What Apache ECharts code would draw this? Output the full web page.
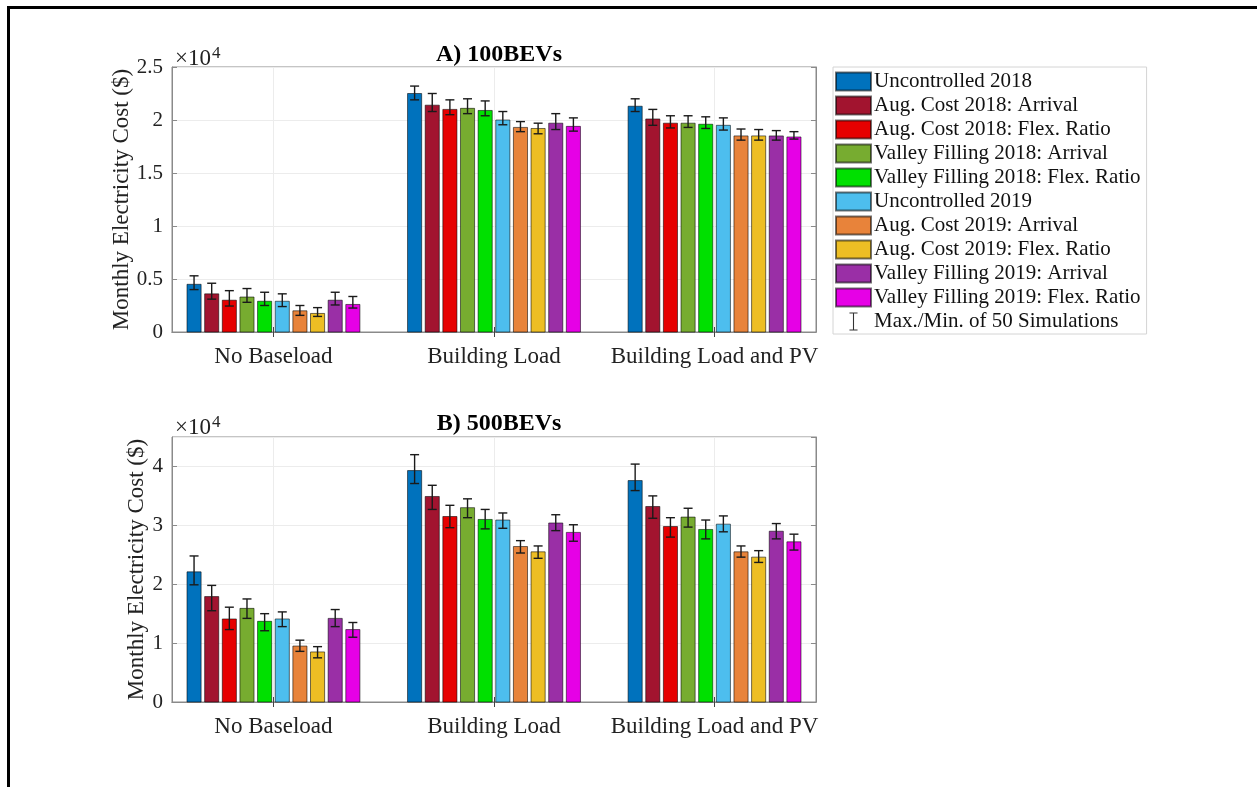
<!DOCTYPE html>
<html lang="en">
<head>
    <title>Monthly Electricity Cost</title>
    <meta charset="utf-8">
    <style>
        html, body { margin: 0; padding: 0; background: #fff; }
        #chart { width: 1257px; height: 787px; }
        .frame { position: absolute; left: 7px; top: 6px; right: -5px; bottom: -5px; border-top: 3px solid #000; border-left: 3px solid #000; pointer-events: none; }
    </style>
    <script src="https://cdn.jsdelivr.net/npm/echarts@6.0.0/dist/echarts.min.js"></script>
</head>
<body>
    <div id="chart"></div>
    <div class="frame"></div>
    <script type="text/javascript">
        // categories and series
        var categories = ["No Baseload", "Building Load", "Building Load and PV"];
        var seriesNames = [
            "Uncontrolled 2018", "Aug. Cost 2018: Arrival", "Aug. Cost 2018: Flex. Ratio",
            "Valley Filling 2018: Arrival", "Valley Filling 2018: Flex. Ratio", "Uncontrolled 2019",
            "Aug. Cost 2019: Arrival", "Aug. Cost 2019: Flex. Ratio", "Valley Filling 2019: Arrival",
            "Valley Filling 2019: Flex. Ratio"
        ];
        var colors = ["#0072BD", "#A2142F", "#E60000", "#77AC30", "#00E000", "#4DBEEE", "#E8833A", "#EDBE24", "#9A2FA6", "#E600E6"];
        var errName = "Max./Min. of 50 Simulations";

        // values in x10^4 $ , one row per series: [No Baseload, Building Load, Building Load and PV]
        var bev100Mean = [
            [0.45, 2.25, 2.13], [0.36, 2.14, 2.01], [0.30, 2.10, 1.97], [0.33, 2.11, 1.97], [0.29, 2.09, 1.96],
            [0.29, 2.00, 1.95], [0.20, 1.93, 1.85], [0.175, 1.92, 1.85], [0.30, 1.97, 1.85], [0.26, 1.94, 1.84]
        ];
        var bev100Min = [
            [0.40, 2.19, 2.08], [0.31, 2.08, 1.95], [0.245, 2.05, 1.925], [0.28, 2.06, 1.93], [0.25, 2.04, 1.92],
            [0.24, 1.955, 1.905], [0.157, 1.89, 1.81], [0.147, 1.87, 1.81], [0.255, 1.91, 1.81], [0.226, 1.895, 1.82]
        ];
        var bev100Max = [
            [0.53, 2.32, 2.20], [0.46, 2.25, 2.10], [0.39, 2.19, 2.04], [0.41, 2.20, 2.04], [0.375, 2.18, 2.03],
            [0.36, 2.08, 2.02], [0.25, 1.985, 1.915], [0.23, 1.97, 1.91], [0.375, 2.06, 1.90], [0.335, 2.02, 1.89]
        ];
        var bev500Mean = [
            [2.21, 3.93, 3.76], [1.79, 3.49, 3.32], [1.41, 3.15, 2.98], [1.59, 3.30, 3.14], [1.37, 3.10, 2.93],
            [1.41, 3.09, 3.02], [0.95, 2.64, 2.55], [0.85, 2.55, 2.46], [1.42, 3.04, 2.90], [1.23, 2.88, 2.72]
        ];
        var bev500Min = [
            [1.99, 3.71, 3.59], [1.55, 3.27, 3.12], [1.23, 2.96, 2.80], [1.42, 3.13, 2.97], [1.21, 2.94, 2.77],
            [1.28, 2.95, 2.89], [0.86, 2.53, 2.46], [0.75, 2.44, 2.37], [1.28, 2.91, 2.77], [1.10, 2.73, 2.58]
        ];
        var bev500Max = [
            [2.48, 4.20, 4.04], [1.98, 3.68, 3.50], [1.61, 3.34, 3.13], [1.75, 3.45, 3.29], [1.50, 3.27, 3.09],
            [1.53, 3.21, 3.16], [1.05, 2.74, 2.65], [0.94, 2.65, 2.57], [1.57, 3.18, 3.03], [1.35, 3.01, 2.85]
        ];

        var FONT = "'Liberation Serif', 'Times New Roman', serif";
        var slot = 0.08, barW = 0.064;

        function makeRender(m) {
            return function (params, api) {
                var x = api.value(0) + (m - 4.5) * slot;
                var top = api.coord([x, api.value(1)]);
                var base = api.coord([x, 0]);
                var lo = api.coord([x, api.value(2)]);
                var hi = api.coord([x, api.value(3)]);
                var w = api.size([barW, 0])[0];
                var cap = 4.5;
                var ls = { stroke: "#1a1a1a", lineWidth: 1.4 };
                return {
                    type: "group",
                    children: [
                        { type: "rect", shape: { x: top[0] - w / 2, y: top[1], width: w, height: base[1] - top[1] },
                          style: { fill: colors[m], stroke: "rgba(0,0,0,0.55)", lineWidth: 1 } },
                        { type: "line", shape: { x1: hi[0], y1: hi[1], x2: lo[0], y2: lo[1] }, style: ls },
                        { type: "line", shape: { x1: hi[0] - cap, y1: hi[1], x2: hi[0] + cap, y2: hi[1] }, style: ls },
                        { type: "line", shape: { x1: lo[0] - cap, y1: lo[1], x2: lo[0] + cap, y2: lo[1] }, style: ls }
                    ]
                };
            };
        }

        function buildSeries(gridIdx, means, mins, maxs) {
            return seriesNames.map(function (name, m) {
                return {
                    name: name,
                    type: "custom",
                    xAxisIndex: gridIdx * 2,
                    yAxisIndex: gridIdx * 2,
                    itemStyle: { color: colors[m], borderColor: "rgba(0,0,0,0.55)", borderWidth: 1 },
                    renderItem: makeRender(m),
                    encode: { x: 0, y: [1, 2, 3] },
                    data: categories.map(function (c, i) { return [i + 1, means[m][i], mins[m][i], maxs[m][i]]; })
                };
            });
        }

        function xAxes(gridIdx) {
            return [
                {
                    type: "value", gridIndex: gridIdx, min: 0.54, max: 3.46,
                    axisLine: { lineStyle: { color: "#8a8a8a" } },
                    axisTick: { inside: true, length: 5, customValues: [1, 2, 3], lineStyle: { color: "#444" } },
                    axisLabel: { customValues: [1, 2, 3], margin: 13, fontFamily: FONT, fontSize: 23, color: "#222",
                                 formatter: function (v) { return categories[Math.round(v) - 1]; } },
                    splitLine: { show: true, lineStyle: { color: "#ececec" } }
                },
                {
                    type: "value", gridIndex: gridIdx, position: "top", min: 0.54, max: 3.46,
                    axisLine: { lineStyle: { color: "#8a8a8a" } },
                    axisTick: { inside: true, length: 5, customValues: [1, 2, 3], lineStyle: { color: "#444" } },
                    axisLabel: { show: false },
                    splitLine: { show: false }
                }
            ];
        }

        function yAxes(gridIdx, max, interval, gap, showMax) {
            return [
                {
                    type: "value", gridIndex: gridIdx, min: 0, max: max, interval: interval,
                    name: "Monthly Electricity Cost ($)", nameLocation: "middle", nameGap: gap,
                    nameMoveOverlap: false,
                    nameTextStyle: { fontFamily: FONT, fontSize: 23, color: "#222" },
                    axisLine: { show: true, lineStyle: { color: "#8a8a8a" } },
                    axisTick: { show: true, inside: true, length: 5, lineStyle: { color: "#8a8a8a" } },
                    axisLabel: { margin: 9, fontFamily: FONT, fontSize: 21, color: "#222", showMaxLabel: showMax },
                    splitLine: { show: true, lineStyle: { color: "#ececec" } }
                },
                {
                    type: "value", gridIndex: gridIdx, position: "right", min: 0, max: max, interval: interval,
                    axisLine: { show: true, lineStyle: { color: "#8a8a8a" } },
                    axisTick: { show: true, inside: true, length: 5, lineStyle: { color: "#8a8a8a" } },
                    axisLabel: { show: false },
                    splitLine: { show: false }
                }
            ];
        }

        var series = buildSeries(0, bev100Mean, bev100Min, bev100Max)
            .concat(buildSeries(1, bev500Mean, bev500Min, bev500Max));
        series.push({
            name: errName, type: "custom", xAxisIndex: 0, yAxisIndex: 0,
            itemStyle: { color: "#333" }, renderItem: function () { return null; }, data: []
        });

        var legendData = seriesNames.map(function (n) { return { name: n, icon: "rect" }; });
        legendData.push({ name: errName, icon: "path://M0,0H9V1.2H5.1V18.8H9V20H0V18.8H3.9V1.2H0Z", itemStyle: { borderWidth: 0 } });

        var supRich = {
            a: { fontFamily: FONT, fontSize: 23, fontWeight: "normal", color: "#222" },
            b: { fontFamily: FONT, fontSize: 17, fontWeight: "normal", color: "#222", verticalAlign: "top", padding: [0, 0, 10, 1] }
        };

        var option = {
            backgroundColor: "#fff",
            animation: false,
            title: [
                { text: "A) 100BEVs", left: 494, top: 38, textAlign: "center",
                  textStyle: { fontFamily: FONT, fontSize: 24, fontWeight: "bold", color: "#000" } },
                { text: "B) 500BEVs", left: 494, top: 407, textAlign: "center",
                  textStyle: { fontFamily: FONT, fontSize: 24, fontWeight: "bold", color: "#000" } },
                { text: "{a|×10}{b|4}", left: 170, top: 40, textStyle: { rich: supRich } },
                { text: "{a|×10}{b|4}", left: 170, top: 409, textStyle: { rich: supRich } }
            ],
            legend: {
                orient: "vertical", left: 833, top: 67,
                itemWidth: 35, itemHeight: 18, itemGap: 3,
                padding: [4, 6, 2, 2],
                borderColor: "#d4d4d4", borderWidth: 1,
                selectedMode: false,
                textStyle: { fontFamily: FONT, fontSize: 21, lineHeight: 18, color: "#111", padding: [0, 0, 0, -2] },
                data: legendData
            },
            grid: [
                { left: 172, top: 67, width: 644, height: 265, show: true, borderColor: "#8a8a8a", borderWidth: 1 },
                { left: 172, top: 437, width: 644, height: 265, show: true, borderColor: "#8a8a8a", borderWidth: 1 }
            ],
            xAxis: xAxes(0).concat(xAxes(1)),
            yAxis: yAxes(0, 2.5, 0.5, 39, true).concat(yAxes(1, 4.5, 1, 24, false)),
            series: series
        };

        var mychart = echarts.init(document.getElementById("chart"));
        mychart.setOption(option);
    </script>
</body>
</html>
